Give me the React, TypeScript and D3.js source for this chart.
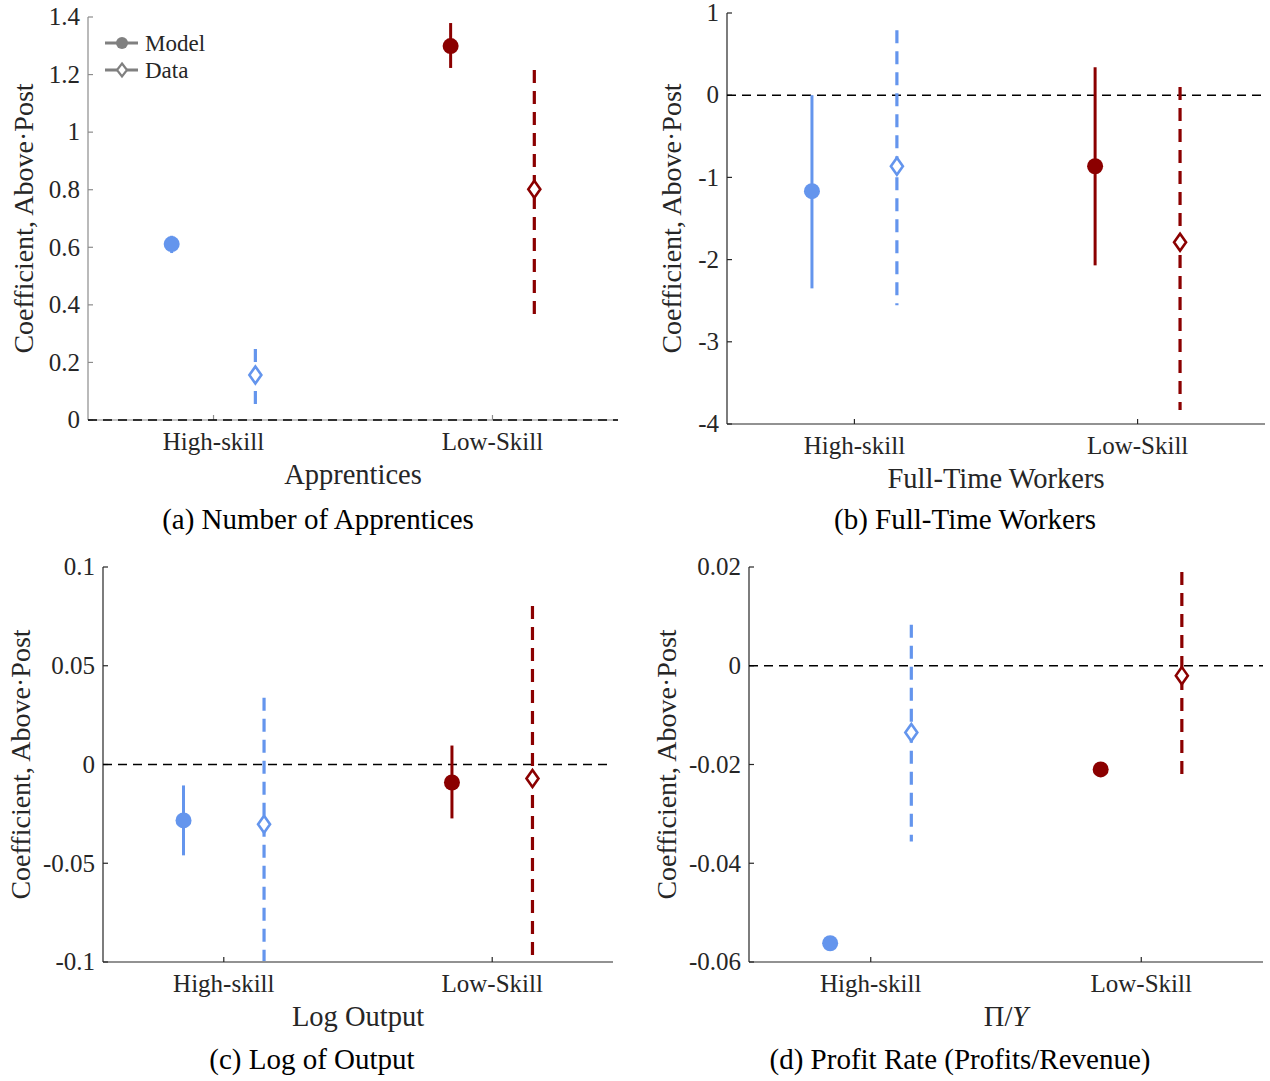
import { useEffect, useRef } from 'react';
import * as d3 from 'd3';

// Categories and series values
const categories = ['High-skill', 'Low-Skill'];

const apprModel = [0.611, 1.299];
const apprModelLo = [0.58, 1.223];
const apprModelHi = [0.64, 1.379];
const apprData = [0.156, 0.802];
const apprDataLo = [0.042, 0.361];
const apprDataHi = [0.247, 1.216];

const ftModel = [-1.168, -0.864];
const ftModelLo = [-2.35, -2.07];
const ftModelHi = [0.0, 0.34];
const ftData = [-0.864, -1.79];
const ftDataLo = [-2.555, -3.83];
const ftDataHi = [0.79, 0.1];

const outModel = [-0.0283, -0.0091];
const outModelLo = [-0.046, -0.0273];
const outModelHi = [-0.0106, 0.0096];
const outData = [-0.0303, -0.0071];
const outDataLo = [-0.0995, -0.1];
const outDataHi = [0.0338, 0.0803];

const profModel = [-0.0562, -0.021];
const profData = [-0.0135, -0.002];
const profDataLo = [-0.0356, -0.0226];
const profDataHi = [0.0083, 0.019];

const apprTicks = [0, 0.2, 0.4, 0.6, 0.8, 1, 1.2, 1.4];
const ftTicks = [-4, -3, -2, -1, 0, 1];
const outTicks = [-0.1, -0.05, 0, 0.05, 0.1];
const profTicks = [-0.06, -0.04, -0.02, 0, 0.02];

const BLUE = '#6495ed';
const RED = '#8b0000';
const FONT = 'Liberation Serif, Times New Roman, serif';

interface Panel {
  left: number;
  right: number;
  top: number;
  bottom: number;
  yDomain: [number, number];
  yTicks: number[];
  model: number[];
  modelLo?: number[];
  modelHi?: number[];
  data: number[];
  dataLo: number[];
  dataHi: number[];
  xLabel: string;
  caption: string;
  captionX: number;
  yLabelX: number;
  axisColor: string;
  legend?: boolean;
}

const panels: Panel[] = [
  {
    left: 88, right: 618, top: 17, bottom: 420,
    yDomain: [0, 1.4], yTicks: apprTicks,
    model: apprModel, modelLo: apprModelLo, modelHi: apprModelHi,
    data: apprData, dataLo: apprDataLo, dataHi: apprDataHi,
    xLabel: 'Apprentices', caption: '(a) Number of Apprentices', captionX: 318, yLabelX: 33,
    axisColor: '#8c8c8c', legend: true,
  },
  {
    left: 727, right: 1265, top: 13, bottom: 424,
    yDomain: [-4, 1], yTicks: ftTicks,
    model: ftModel, modelLo: ftModelLo, modelHi: ftModelHi,
    data: ftData, dataLo: ftDataLo, dataHi: ftDataHi,
    xLabel: 'Full-Time Workers', caption: '(b) Full-Time Workers', captionX: 965, yLabelX: 681,
    axisColor: '#262626',
  },
  {
    left: 103, right: 613, top: 567, bottom: 962,
    yDomain: [-0.1, 0.1], yTicks: outTicks,
    model: outModel, modelLo: outModelLo, modelHi: outModelHi,
    data: outData, dataLo: outDataLo, dataHi: outDataHi,
    xLabel: 'Log Output', caption: '(c) Log of Output', captionX: 312, yLabelX: 30,
    axisColor: '#262626',
  },
  {
    left: 749, right: 1263, top: 567, bottom: 962,
    yDomain: [-0.06, 0.02], yTicks: profTicks,
    model: profModel,
    data: profData, dataLo: profDataLo, dataHi: profDataHi,
    xLabel: 'PI', caption: '(d) Profit Rate (Profits/Revenue)', captionX: 960, yLabelX: 676,
    axisColor: '#262626',
  },
];

function diamond(cx: number, cy: number, w: number, h: number) {
  return `M${cx},${cy - h}L${cx + w},${cy}L${cx},${cy + h}L${cx - w},${cy}Z`;
}

export default function App() {
  const svgRef = useRef<SVGSVGElement>(null);

  useEffect(() => {
    if (!svgRef.current) return;
    const svg = d3.select(svgRef.current);
    svg.selectAll('*').remove();

    panels.forEach((p) => {
      const g = svg.append('g');
      const x = d3.scaleLinear().domain([0.55, 2.45]).range([p.left, p.right]);
      const y = d3.scaleLinear().domain(p.yDomain).range([p.bottom, p.top]);
      const fmt = (v: number) => `${+v.toFixed(3)}`;

      // axes
      g.append('line')
        .attr('x1', p.left).attr('x2', p.left)
        .attr('y1', p.top).attr('y2', p.bottom)
        .attr('stroke', p.axisColor).attr('stroke-width', 1.2);
      g.append('line')
        .attr('x1', p.left).attr('x2', p.right)
        .attr('y1', p.bottom).attr('y2', p.bottom)
        .attr('stroke', p.axisColor).attr('stroke-width', 1.2);

      p.yTicks.forEach((t) => {
        g.append('line')
          .attr('x1', p.left).attr('x2', p.left + 5)
          .attr('y1', y(t)).attr('y2', y(t))
          .attr('stroke', p.axisColor).attr('stroke-width', 1.2);
        g.append('text')
          .attr('x', p.left - 8).attr('y', y(t))
          .attr('dy', '0.33em')
          .attr('text-anchor', 'end')
          .attr('font-family', FONT).attr('font-size', 25)
          .attr('fill', '#262626')
          .text(fmt(t));
      });

      categories.forEach((c, i) => {
        const cx = x(i + 1);
        g.append('line')
          .attr('x1', cx).attr('x2', cx)
          .attr('y1', p.bottom).attr('y2', p.bottom - 5)
          .attr('stroke', p.axisColor).attr('stroke-width', 1.2);
        g.append('text')
          .attr('x', cx).attr('y', p.bottom + 30)
          .attr('text-anchor', 'middle')
          .attr('font-family', FONT).attr('font-size', 25)
          .attr('fill', '#262626')
          .text(c);
      });

      // zero reference line
      g.append('line')
        .attr('x1', p.left).attr('x2', p.right)
        .attr('y1', y(0)).attr('y2', y(0))
        .attr('stroke', '#000').attr('stroke-width', 1.5)
        .attr('stroke-dasharray', '9,6');

      // x label
      const xl = g.append('text')
        .attr('x', (p.left + p.right) / 2).attr('y', p.bottom + 64)
        .attr('text-anchor', 'middle')
        .attr('font-family', FONT).attr('font-size', 28.5)
        .attr('fill', '#262626');
      if (p.xLabel === 'PI') {
        xl.append('tspan').text('\u03A0/');
        xl.append('tspan').attr('font-style', 'italic').text('Y');
      } else {
        xl.text(p.xLabel);
      }

      // y label
      g.append('text')
        .attr('transform', `translate(${p.yLabelX},${(p.top + p.bottom) / 2}) rotate(-90)`)
        .attr('text-anchor', 'middle')
        .attr('font-family', FONT).attr('font-size', 28)
        .attr('fill', '#262626')
        .text('Coefficient, Above\u00B7Post');

      // caption
      g.append('text')
        .attr('x', p.captionX).attr('y', p.top < 100 ? 529 : 1069)
        .attr('text-anchor', 'middle')
        .attr('font-family', FONT).attr('font-size', 29)
        .attr('fill', '#000')
        .text(p.caption);

      // series
      const colors = [BLUE, RED];
      categories.forEach((_, i) => {
        const col = colors[i];
        const mx = x(i + 1 - 0.15);
        const dx = x(i + 1 + 0.15);

        if (p.modelLo && p.modelHi) {
          g.append('line')
            .attr('x1', mx).attr('x2', mx)
            .attr('y1', y(p.modelLo[i])).attr('y2', y(p.modelHi[i]))
            .attr('stroke', col).attr('stroke-width', 3);
        }
        g.append('circle')
          .attr('cx', mx).attr('cy', y(p.model[i]))
          .attr('r', 8).attr('fill', col);

        g.append('line')
          .attr('x1', dx).attr('x2', dx)
          .attr('y1', y(p.dataHi[i])).attr('y2', y(p.dataLo[i]))
          .attr('stroke', col).attr('stroke-width', 3.2)
          .attr('stroke-dasharray', '13,8');
        g.append('path')
          .attr('d', diamond(dx, y(p.data[i]), 6, 8.5))
          .attr('fill', '#fff').attr('stroke', col).attr('stroke-width', 2.6);
      });

      // legend
      if (p.legend) {
        const lg = g.append('g');
        const items = ['Model', 'Data'];
        items.forEach((name, k) => {
          const ly = 43 + k * 27;
          lg.append('line')
            .attr('x1', 105).attr('x2', 138)
            .attr('y1', ly).attr('y2', ly)
            .attr('stroke', '#808080').attr('stroke-width', 3);
          if (k === 0) {
            lg.append('circle').attr('cx', 122).attr('cy', ly).attr('r', 6).attr('fill', '#808080');
          } else {
            lg.append('path')
              .attr('d', diamond(122, ly, 5, 6.5))
              .attr('fill', '#fff').attr('stroke', '#808080').attr('stroke-width', 2.2);
          }
          lg.append('text')
            .attr('x', 145).attr('y', ly)
            .attr('dy', '0.33em')
            .attr('font-family', FONT).attr('font-size', 23)
            .attr('fill', '#262626')
            .text(name);
        });
      }
    });
  }, []);

  return (
    <svg
      ref={svgRef}
      width={1270}
      height={1081}
      style={{ position: 'absolute', left: 0, top: 0, background: '#fff' }}
    />
  );
}
